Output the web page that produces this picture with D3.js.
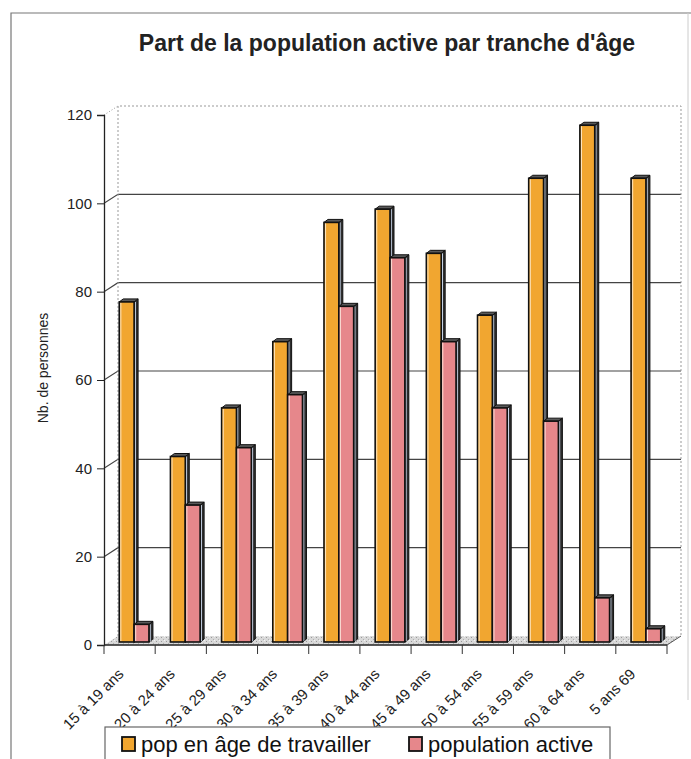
<!DOCTYPE html>
<html>
<head>
<meta charset="utf-8">
<script src="https://cdn.jsdelivr.net/npm/d3@7"></script>
<style>
  body { margin: 0; background: #fff; }
  svg { font-family: Arial, "Liberation Sans", sans-serif; }
</style>
</head>
<body>
<div id="chart"></div>
<script>
var categories = ["15 à 19 ans", "20 à 24 ans", "25 à 29 ans", "30 à 34 ans", "35 à 39 ans",
  "40 à 44 ans", "45 à 49 ans", "50 à 54 ans", "55 à 59 ans", "60 à 64 ans", "5 ans 69"];
var seriesNames = ["pop en âge de travailler", "population active"];
var popAge = [77, 42, 53, 68, 95, 98, 88, 74, 105, 117, 105];
var popActive = [4, 31, 44, 56, 76, 87, 68, 53, 50, 10, 3];
var yTicks = [0, 20, 40, 60, 80, 100, 120];

var width = 691, height = 759;
var colors = ["#f1a630", "#e6878b"];

// 3d geometry of the plot box
var plotLeft = 104, plotRight = 667, plotBottom = 645, plotTop = 115;
var depthX = 14, depthY = 9;       // floor depth
var barDX = 4.5, barDY = 3;        // bars sit a third into the floor
var barSide = 4, barTop = 3;       // bar thickness

var svg = d3.select("#chart")
  .append("svg")
  .attr("width", width)
  .attr("height", height);

var defs = svg.append("defs");
var pat = defs.append("pattern")
  .attr("id", "speckle")
  .attr("width", 5).attr("height", 4)
  .attr("patternUnits", "userSpaceOnUse");
pat.append("rect").attr("width", 5).attr("height", 4).attr("fill", "#d9d9d9");
pat.append("rect").attr("x", 1).attr("y", 1).attr("width", 1).attr("height", 1).attr("fill", "#999");
pat.append("rect").attr("x", 3).attr("y", 3).attr("width", 1).attr("height", 1).attr("fill", "#b0b0b0");
pat.append("rect").attr("x", 4).attr("y", 0).attr("width", 1).attr("height", 1).attr("fill", "#f4f4f4");

// page frame
svg.append("path")
  .attr("d", "M11,759 L11,13 L691,13")
  .attr("fill", "none").attr("stroke", "#777").attr("stroke-width", 1.2);
svg.append("line")
  .attr("x1", 688).attr("y1", 13).attr("x2", 688).attr("y2", 700)
  .attr("stroke", "#ccc");

svg.append("text")
  .attr("x", 387).attr("y", 51)
  .attr("text-anchor", "middle")
  .attr("font-size", 23).attr("font-weight", "bold")
  .attr("fill", "#222")
  .text("Part de la population active par tranche d'âge");

var y = d3.scaleLinear().domain([0, 120]).range([plotBottom, plotTop]);

var x0 = d3.scaleBand()
  .domain(categories)
  .range([plotLeft, plotRight])
  .paddingInner(0.42)
  .paddingOuter(0.21);

var x1 = d3.scaleBand()
  .domain(seriesNames)
  .range([0, x0.bandwidth()]);

// floor
svg.append("path")
  .attr("d", "M" + plotLeft + "," + plotBottom + " L" + plotRight + "," + plotBottom +
    " L" + (plotRight + depthX) + "," + (plotBottom - depthY) +
    " L" + (plotLeft + depthX) + "," + (plotBottom - depthY) + " Z")
  .attr("fill", "url(#speckle)");

// back wall: gridlines and dotted edges
var grid = svg.append("g");
yTicks.filter(function (d) { return d > 0 && d < 120; }).forEach(function (d) {
  grid.append("path")
    .attr("d", "M" + plotLeft + "," + y(d) + " L" + (plotLeft + depthX) + "," + (y(d) - depthY) +
      " L" + (plotRight + depthX) + "," + (y(d) - depthY))
    .attr("fill", "none").attr("stroke", "#444").attr("stroke-width", 1.1);
});
grid.append("path")
  .attr("d", "M" + (plotLeft + depthX) + "," + (plotBottom - depthY) + " L" + (plotLeft + depthX) + "," + (y(120) - depthY) +
    " L" + (plotRight + depthX) + "," + (y(120) - depthY) + " L" + (plotRight + depthX) + "," + (plotBottom - depthY))
  .attr("fill", "none").attr("stroke", "#999").attr("stroke-dasharray", "2,2");
grid.append("path")
  .attr("d", "M" + plotLeft + "," + y(120) + " L" + (plotLeft + depthX) + "," + (y(120) - depthY))
  .attr("fill", "none").attr("stroke", "#999").attr("stroke-dasharray", "1,2");

// bars
function bar3d(g, x, w, v, fill) {
  var xl = x + barDX, yb = plotBottom - barDY, yt = y(v) - barDY;
  var xr = xl + w;
  // side
  g.append("path")
    .attr("d", "M" + xr + "," + yb + " L" + (xr + barSide) + "," + (yb - barTop) +
      " L" + (xr + barSide) + "," + (yt - barTop) + " L" + xr + "," + yt + " Z")
    .attr("fill", "#2e2e2e").attr("stroke", "#111").attr("stroke-width", 1);
  g.append("line")
    .attr("x1", xr + 1.3).attr("y1", yb - 1).attr("x2", xr + 1.3).attr("y2", yt)
    .attr("stroke", "#c9d6ea").attr("stroke-width", 1);
  // top
  g.append("path")
    .attr("d", "M" + xl + "," + yt + " L" + xr + "," + yt + " L" + (xr + barSide) + "," + (yt - barTop) +
      " L" + (xl + barSide) + "," + (yt - barTop) + " Z")
    .attr("fill", "#5a5a5a").attr("stroke", "#111").attr("stroke-width", 1);
  // front
  g.append("rect")
    .attr("x", xl).attr("y", yt)
    .attr("width", w).attr("height", yb - yt)
    .attr("fill", fill).attr("stroke", "#111").attr("stroke-width", 1.6);
  g.append("line")
    .attr("x1", xl + 1.6).attr("y1", yt + 1).attr("x2", xl + 1.6).attr("y2", yb - 1)
    .attr("stroke", "#fff6e8").attr("stroke-width", 1).attr("opacity", 0.8);
}

var bars = svg.append("g");
categories.forEach(function (c, i) {
  var g = bars.append("g");
  bar3d(g, x0(c) + x1(seriesNames[0]), x1.bandwidth(), popAge[i], colors[0]);
  bar3d(g, x0(c) + x1(seriesNames[1]), x1.bandwidth(), popActive[i], colors[1]);
});

// front axes
svg.append("line")
  .attr("x1", plotLeft).attr("y1", plotBottom).attr("x2", plotRight).attr("y2", plotBottom)
  .attr("stroke", "#222").attr("stroke-width", 1.3);
svg.append("line")
  .attr("x1", plotRight).attr("y1", plotBottom).attr("x2", plotRight + depthX).attr("y2", plotBottom - depthY)
  .attr("stroke", "#555").attr("stroke-width", 1);

var yAxis = svg.append("g")
  .attr("transform", "translate(" + plotLeft + ",0)")
  .call(d3.axisLeft(y).tickValues(yTicks).tickSize(7).tickPadding(5));
yAxis.select(".domain").attr("stroke", "#222").attr("stroke-width", 1.3);
yAxis.selectAll(".tick line").attr("stroke", "#222");
yAxis.selectAll("text").attr("font-size", 15).attr("fill", "#222")
  .attr("font-family", "Arial, 'Liberation Sans', sans-serif");

var boundaries = categories.map(function (c) { return x0(c) - x0.step() * x0.paddingInner() / 2; });
boundaries.push(plotRight);
boundaries[0] = plotLeft;
svg.append("g").selectAll("line")
  .data(boundaries)
  .enter()
  .append("line")
  .attr("x1", function (d) { return d; })
  .attr("x2", function (d) { return d; })
  .attr("y1", plotBottom)
  .attr("y2", plotBottom + 9)
  .attr("stroke", "#333");

svg.append("g").selectAll("text")
  .data(categories)
  .enter()
  .append("text")
  .attr("transform", function (d) {
    return "translate(" + (x0(d) + x0.bandwidth() / 2 - 5) + "," + (plotBottom + 30) + ") rotate(-45)";
  })
  .attr("text-anchor", "end")
  .attr("font-size", 15)
  .attr("fill", "#222")
  .text(function (d) { return d; });

svg.append("text")
  .attr("transform", "translate(48,368) rotate(-90)")
  .attr("text-anchor", "middle")
  .attr("font-size", 14)
  .attr("fill", "#222")
  .text("Nb. de personnes");

// legend
var legend = svg.append("g");
legend.append("rect")
  .attr("x", 105).attr("y", 727).attr("width", 505).attr("height", 50)
  .attr("fill", "#fff").attr("stroke", "#666").attr("stroke-width", 1.2);
var legendX = [122, 409];
seriesNames.forEach(function (s, i) {
  legend.append("rect")
    .attr("x", legendX[i]).attr("y", 737).attr("width", 13).attr("height", 14)
    .attr("fill", colors[i]).attr("stroke", "#111").attr("stroke-width", 1.8);
  legend.append("text")
    .attr("x", legendX[i] + 19).attr("y", 752)
    .attr("font-size", 22)
    .attr("fill", "#111")
    .text(s);
});
</script>
</body>
</html>
